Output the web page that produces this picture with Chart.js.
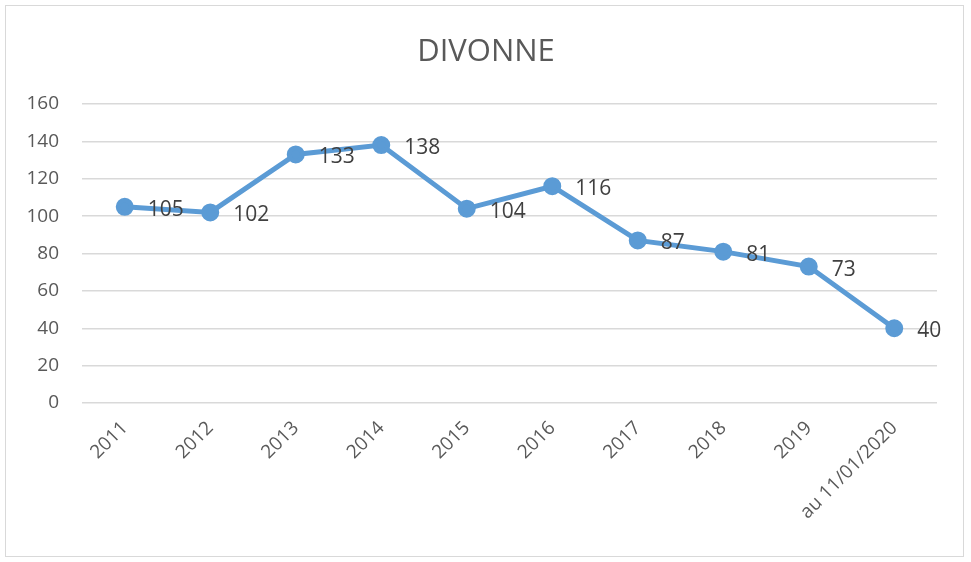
<!DOCTYPE html>
<html><head><meta charset="utf-8">
<script src="https://cdn.jsdelivr.net/npm/chart.js@4/dist/chart.umd.min.js"></script>
<style>html,body{margin:0;padding:0;background:#fff;overflow:hidden}#wrap{position:relative;width:971px;height:562px}</style>
</head><body><div id="wrap"><canvas id="c" width="971" height="562"></canvas></div>
<script>
const categories = ["2011","2012","2013","2014","2015","2016","2017","2018","2019","au 11/01/2020"];
const values = [105,102,133,138,104,116,87,81,73,40];
const yTicks = [0,20,40,60,80,100,120,140,160];
const title = "DIVONNE";

const FONT = "'Open Sans', 'Liberation Sans', sans-serif";

const framePlugin = {
  id: 'frame',
  beforeDraw(chart) {
    const ctx = chart.ctx;
    ctx.save();
    ctx.fillStyle = '#fff';
    ctx.fillRect(0,0,chart.width,chart.height);
    ctx.strokeStyle = '#d9d9d9';
    ctx.lineWidth = 1;
    ctx.strokeRect(5.5,5.5,958,551);
    ctx.fillStyle = '#595959';
    ctx.font = "31px " + FONT;
    ctx.textAlign = 'center';
    ctx.textBaseline = 'alphabetic';
    ctx.fillText(title, 486, 61);
    ctx.restore();
  },
  afterDatasetsDraw(chart) {
    const ctx = chart.ctx;
    const meta = chart.getDatasetMeta(0);
    ctx.save();
    ctx.fillStyle = '#404040';
    ctx.font = "21px " + FONT;
    ctx.textAlign = 'left';
    ctx.textBaseline = 'alphabetic';
    meta.data.forEach((pt, i) => {
      ctx.fillText(String(values[i]), pt.x + 23, pt.y + 9);
    });
    ctx.restore();
  }
};

new Chart(document.getElementById('c'), {
  type: 'line',
  data: {
    labels: categories,
    datasets: [{
      data: values,
      borderColor: '#5b9bd5',
      backgroundColor: '#5b9bd5',
      borderWidth: 5,
      pointRadius: 6.5,
      pointHoverRadius: 6.5,
      pointBackgroundColor: '#5b9bd5',
      pointBorderColor: '#5b9bd5',
      tension: 0
    }]
  },
  options: {
    responsive: false,
    animation: false,
    layout: { padding: { top: 104, right: 34, left: 0, bottom: 0 } },
    plugins: { legend: { display: false }, title: { display: false }, tooltip: { enabled: false } },
    scales: {
      x: {
        offset: true,
        grid: { display: false, drawTicks: false },
        border: { display: false },
        ticks: { color: '#595959', font: { size: 19, family: FONT }, minRotation: 45, maxRotation: 45, autoSkip: false, padding: 14 },
        afterFit(scale) { scale.height = 159; }
      },
      y: {
        min: 0, max: 160,
        afterBuildTicks(scale) { scale.ticks = yTicks.map(v => ({ value: v })); },
        grid: { color: '#d9d9d9', lineWidth: 1.5, drawTicks: false },
        border: { display: false },
        ticks: { color: '#595959', font: { size: 19, family: FONT }, padding: 23 },
        afterFit(scale) { scale.width = 82; }
      }
    }
  },
  plugins: [framePlugin]
});
</script></body></html>
